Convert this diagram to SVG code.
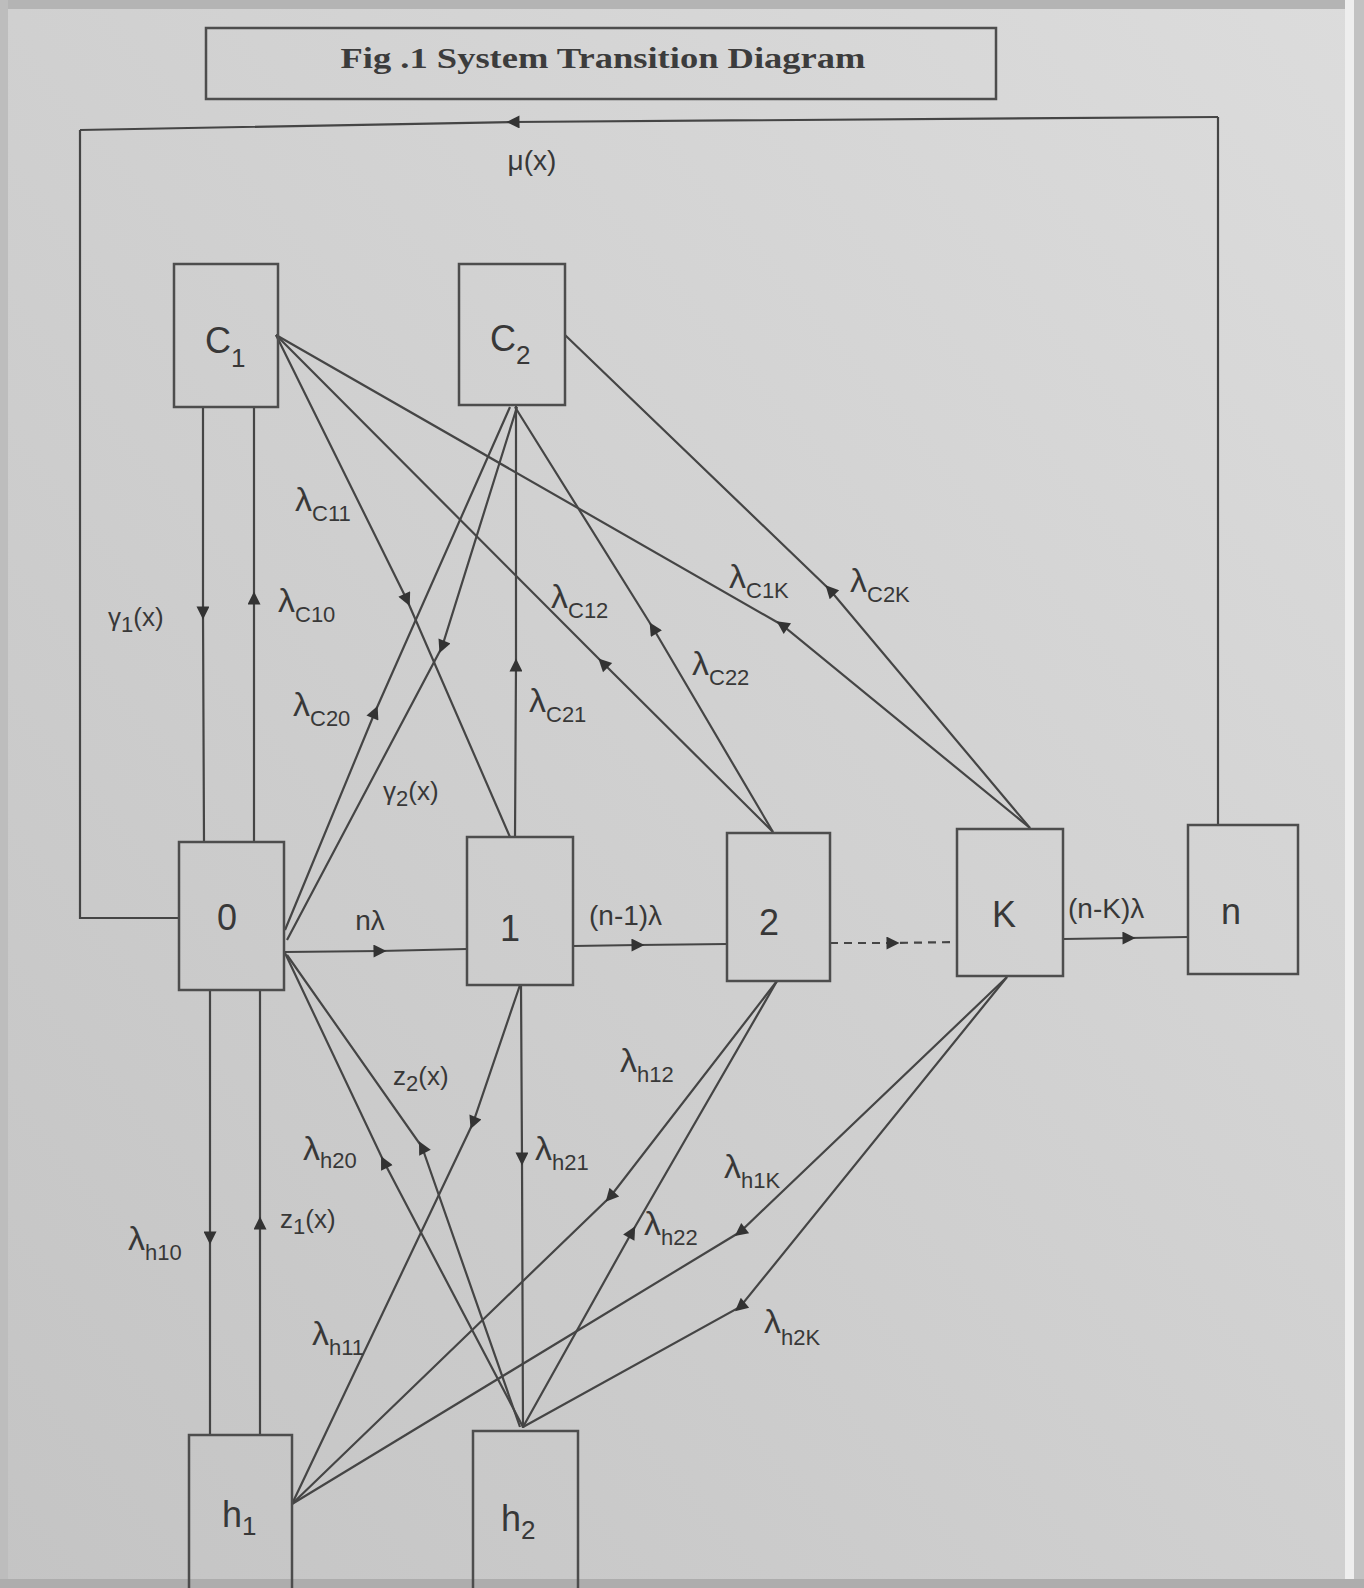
<svg xmlns="http://www.w3.org/2000/svg" width="1364" height="1588" viewBox="0 0 1364 1588">
<defs>
<linearGradient id="bg" x1="0" y1="1" x2="1" y2="0">
<stop offset="0" stop-color="#c4c4c4"/>
<stop offset="1" stop-color="#dcdcdc"/>
</linearGradient>
<marker id="ah" viewBox="0 0 10 10" refX="5" refY="5" markerWidth="16" markerHeight="13" markerUnits="userSpaceOnUse" orient="auto">
<path d="M0,0 L10,5 L0,10 z" fill="#333"/>
</marker>
</defs>
<style>
.box{fill:none;stroke:#4d4d4d;stroke-width:2.5}
.ln{fill:none;stroke:#454545;stroke-width:2.2;marker-mid:url(#ah)}
.pl{fill:none;stroke:#454545;stroke-width:2.2}
.dash{stroke-dasharray:8 6}
.t{font-family:"Liberation Sans","DejaVu Sans",sans-serif;fill:#383838}
.lab{font-size:34px}
.sub{font-size:22px}
.nd{font-size:36px}
.ns{font-size:26px}
.mid{font-size:28px}
.title{font-family:"Liberation Serif","Times New Roman",serif;font-weight:bold;font-size:30px;fill:#3c3c3c}
</style>

<!-- photo background -->
<rect x="0" y="0" width="1364" height="1588" fill="url(#bg)"/>
<rect x="0" y="0" width="1364" height="9" fill="#b4b4b4"/>
<rect x="0" y="0" width="8" height="1588" fill="#bdbdbd"/>
<rect x="1345" y="0" width="9" height="1588" fill="#eeeeee"/>
<rect x="1354" y="0" width="10" height="1588" fill="#c2c2c2"/>
<rect x="0" y="1579" width="1364" height="9" fill="#adadad"/>

<!-- title -->
<g id="title">
<rect x="206" y="28" width="790" height="71" class="box"/>
<text x="603" y="68" text-anchor="middle" class="title" textLength="525" lengthAdjust="spacingAndGlyphs">Fig .1 System Transition Diagram</text>
</g>

<!-- connectors -->
<g id="connectors">
<g id="e-n-0">
<polyline class="pl" points="1218,825 1218,117"/>
<polyline class="ln" points="1218,117 513,122 80,130"/>
<polyline class="pl" points="80,130 80,918 179,918"/>
</g>
<polyline id="e-0-1" class="ln" points="285,952 380,951 467,949"/>
<polyline id="e-1-2" class="ln" points="573,946 638,945 727,944"/>
<polyline id="e-2-K" class="ln dash" points="830,943 893,943 957,942"/>
<polyline id="e-K-n" class="ln" points="1063,939 1129,938 1188,937"/>

<polyline id="e-C1-0" class="ln" points="203,407 203,613 204,842"/>
<polyline id="e-0-C1" class="ln" points="254,842 254,598 254,407"/>
<polyline id="e-0-h1" class="ln" points="210,990 210,1238 210,1435"/>
<polyline id="e-h1-0" class="ln" points="260,1435 260,1223 260,990"/>
<polyline id="e-1-C2" class="ln" points="515,837 516,665 516,405"/>
<polyline id="e-1-h2" class="ln" points="521,985 522,1159 523,1428"/>

<polyline id="e-C1-1" class="ln" points="276,335 407,600 510,837"/>
<polyline id="e-2-C1" class="ln" points="773,832 603,663 276,335"/>
<polyline id="e-K-C1" class="ln" points="1030,828 782,625 276,335"/>
<polyline id="e-K-C2" class="ln" points="1030,828 830,590 565,335"/>
<polyline id="e-2-C2" class="ln" points="773,832 653,628 515,407"/>
<polyline id="e-0-C2" class="ln" points="285,930 375,712 510,407"/>
<polyline id="e-C2-0" class="ln" points="517,407 442,647 287,940"/>

<polyline id="e-h2-0a" class="ln" points="523,1427 384,1162 285,953"/>
<polyline id="e-h2-0b" class="ln" points="520,1427 422,1147 287,955"/>
<polyline id="e-1-h1" class="ln" points="520,985 473,1123 292,1504"/>
<polyline id="e-2-h1" class="ln" points="777,981 610,1197 292,1504"/>
<polyline id="e-h2-2" class="ln" points="523,1427 632,1232 777,981"/>
<polyline id="e-K-h1" class="ln" points="1007,977 740,1232 292,1504"/>
<polyline id="e-K-h2" class="ln" points="1007,977 740,1307 523,1427"/>
</g>

<!-- nodes -->
<g id="node-C1"><rect x="174" y="264" width="104" height="143" class="box"/><text x="205" y="353" class="t nd">C<tspan class="ns" dy="14">1</tspan></text></g>
<g id="node-C2"><rect x="459" y="264" width="106" height="141" class="box"/><text x="490" y="351" class="t nd">C<tspan class="ns" dy="13">2</tspan></text></g>
<g id="node-0"><rect x="179" y="842" width="105" height="148" class="box"/><text x="227" y="930" text-anchor="middle" class="t nd">0</text></g>
<g id="node-1"><rect x="467" y="837" width="106" height="148" class="box"/><text x="510" y="941" text-anchor="middle" class="t nd">1</text></g>
<g id="node-2"><rect x="727" y="833" width="103" height="148" class="box"/><text x="769" y="935" text-anchor="middle" class="t nd">2</text></g>
<g id="node-K"><rect x="957" y="829" width="106" height="147" class="box"/><text x="1004" y="927" text-anchor="middle" class="t nd">K</text></g>
<g id="node-n"><rect x="1188" y="825" width="110" height="149" class="box"/><text x="1231" y="924" text-anchor="middle" class="t nd">n</text></g>
<g id="node-h1"><rect x="189" y="1435" width="103" height="160" class="box"/><text x="222" y="1527" class="t nd">h<tspan class="ns" dy="8">1</tspan></text></g>
<g id="node-h2"><rect x="473" y="1431" width="105" height="160" class="box"/><text x="501" y="1531" class="t nd">h<tspan class="ns" dy="8">2</tspan></text></g>

<!-- labels -->
<g id="labels" class="t">
<text x="532" y="170" text-anchor="middle" class="mid">μ(x)</text>
<text x="108" y="626" class="ns">γ<tspan class="sub" dy="6">1</tspan><tspan dy="-6">(x)</tspan></text>
<text x="278" y="612" class="lab">λ<tspan class="sub" dy="10">C10</tspan></text>
<text x="295" y="511" class="lab">λ<tspan class="sub" dy="10">C11</tspan></text>
<text x="293" y="716" class="lab">λ<tspan class="sub" dy="10">C20</tspan></text>
<text x="383" y="800" class="ns">γ<tspan class="sub" dy="6">2</tspan><tspan dy="-6">(x)</tspan></text>
<text x="370" y="930" text-anchor="middle" class="mid">nλ</text>
<text x="529" y="712" class="lab">λ<tspan class="sub" dy="10">C21</tspan></text>
<text x="551" y="608" class="lab">λ<tspan class="sub" dy="10">C12</tspan></text>
<text x="692" y="675" class="lab">λ<tspan class="sub" dy="10">C22</tspan></text>
<text x="729" y="588" class="lab">λ<tspan class="sub" dy="10">C1K</tspan></text>
<text x="850" y="592" class="lab">λ<tspan class="sub" dy="10">C2K</tspan></text>
<text x="589" y="925" class="mid">(n-1)λ</text>
<text x="1068" y="918" class="mid">(n-K)λ</text>
<text x="620" y="1072" class="lab">λ<tspan class="sub" dy="10">h12</tspan></text>
<text x="535" y="1160" class="lab">λ<tspan class="sub" dy="10">h21</tspan></text>
<text x="303" y="1160" class="lab">λ<tspan class="sub" dy="8">h20</tspan></text>
<text x="393" y="1085" class="ns">z<tspan class="sub" dy="6">2</tspan><tspan dy="-6">(x)</tspan></text>
<text x="280" y="1228" class="ns">z<tspan class="sub" dy="6">1</tspan><tspan dy="-6">(x)</tspan></text>
<text x="128" y="1250" class="lab">λ<tspan class="sub" dy="10">h10</tspan></text>
<text x="312" y="1345" class="lab">λ<tspan class="sub" dy="10">h11</tspan></text>
<text x="644" y="1235" class="lab">λ<tspan class="sub" dy="10">h22</tspan></text>
<text x="724" y="1178" class="lab">λ<tspan class="sub" dy="10">h1K</tspan></text>
<text x="764" y="1333" class="lab">λ<tspan class="sub" dy="12">h2K</tspan></text>
</g>
</svg>
